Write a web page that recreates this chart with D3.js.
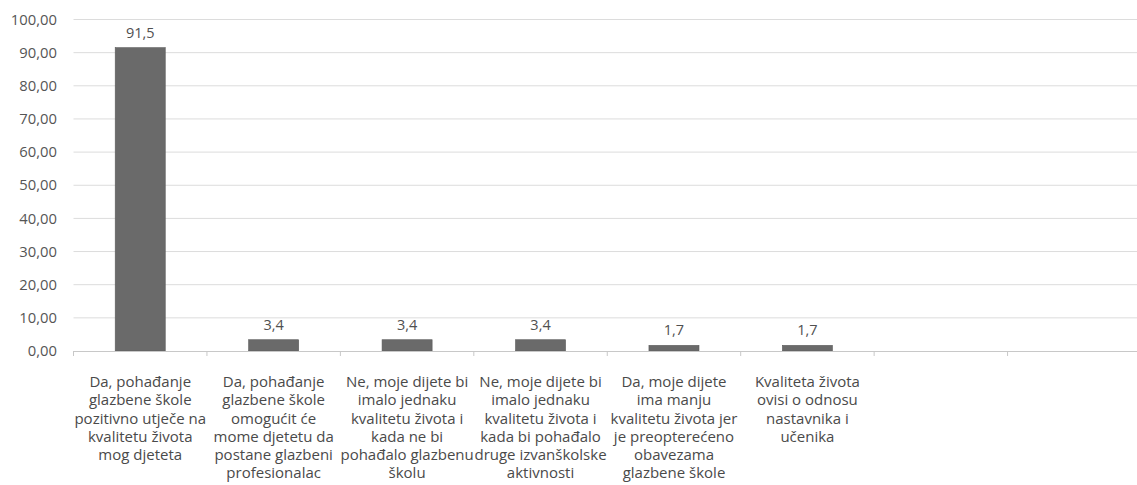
<!DOCTYPE html>
<html><head><meta charset="utf-8">
<script src="https://cdn.jsdelivr.net/npm/d3@7"></script>
<style>body{margin:0;background:#fff}svg{display:block}text{font-family:"Open Sans","Noto Sans",sans-serif}</style>
</head><body><svg id="c" width="1137" height="485"></svg>
<script>
const categories = [
 ["Da, pohađanje","glazbene škole","pozitivno utječe na","kvalitetu života","mog djeteta"],
 ["Da, pohađanje","glazbene škole","omogućit će","mome djetetu da","postane glazbeni","profesionalac"],
 ["Ne, moje dijete bi","imalo jednaku","kvalitetu života i","kada ne bi","pohađalo glazbenu","školu"],
 ["Ne, moje dijete bi","imalo jednaku","kvalitetu života i","kada bi pohađalo","druge izvanškolske","aktivnosti"],
 ["Da, moje dijete","ima manju","kvalitetu života jer","je preopterećeno","obavezama","glazbene škole"],
 ["Kvaliteta života","ovisi o odnosu","nastavnika i","učenika"],
 [],
 []
];
const values = [91.5, 3.4, 3.4, 3.4, 1.7, 1.7, null, null];
const valueLabels = ["91,5","3,4","3,4","3,4","1,7","1,7","",""];
const yTicks = [0,10,20,30,40,50,60,70,80,90,100];

const svg = d3.select("#c");
const mLeft = 73.5, mRight = 1141, mTop = 19.5, mBottom = 351;
const x = d3.scaleBand().domain(d3.range(categories.length)).range([mLeft, mRight]).paddingInner(0).paddingOuter(0);
const y = d3.scaleLinear().domain([0,100]).range([mBottom, mTop]);

// gridlines
svg.append("g").selectAll("line").data(yTicks.filter(d=>d>0)).join("line")
 .attr("x1", mLeft).attr("x2", mRight).attr("y1", d=>y(d)).attr("y2", d=>y(d))
 .attr("stroke", "#dcdcdc").attr("stroke-width", 1);

// y labels
svg.append("g").selectAll("text").data(yTicks).join("text")
 .attr("x", 57).attr("y", d=>y(d)).attr("dy","0.35em").attr("text-anchor","end")
 .attr("font-size", 14.8).attr("fill", "#555")
 .text(d=>d3.format(".2f")(d).replace(".", ","));

// bars
const bw = x.bandwidth()*0.375;
const barData = values.map((v,i)=>({v,i})).filter(d=>d.v!=null);
svg.append("g").selectAll("rect").data(barData).join("rect")
 .attr("x", d=>x(d.i)+x.bandwidth()/2-bw/2).attr("width", bw)
 .attr("y", d=>y(d.v)).attr("height", d=>mBottom-y(d.v))
 .attr("fill", "#6a6a6a").attr("stroke","#5a5a5a").attr("stroke-width",0.6);

// value labels
svg.append("g").selectAll("text").data(barData).join("text")
 .attr("x", d=>x(d.i)+x.bandwidth()/2).attr("y", d=>y(d.v)-15).attr("dy","0.35em")
 .attr("text-anchor","middle").attr("font-size",14.5).attr("fill","#505050")
 .text(d=>valueLabels[d.i]);

// x axis line + ticks
svg.append("line").attr("x1",mLeft).attr("x2",mRight).attr("y1",mBottom+0.5).attr("y2",mBottom+0.5)
 .attr("stroke","#c8c8c8").attr("stroke-width",1);
svg.append("g").selectAll("line").data(d3.range(categories.length+1)).join("line")
 .attr("x1", d=>mLeft+d*x.bandwidth()).attr("x2", d=>mLeft+d*x.bandwidth())
 .attr("y1", mBottom).attr("y2", mBottom+5).attr("stroke","#c8c8c8");

// category labels
const cg = svg.append("g");
categories.forEach((lines,i)=>{
  const t = cg.append("text").attr("text-anchor","middle").attr("font-size",15).attr("fill","#4a4a4a");
  lines.forEach((l,j)=>{
    t.append("tspan").attr("x", x(i)+x.bandwidth()/2).attr("y", 381.7+j*18.3).attr("dy","0.35em").text(l);
  });
});
</script></body></html>
